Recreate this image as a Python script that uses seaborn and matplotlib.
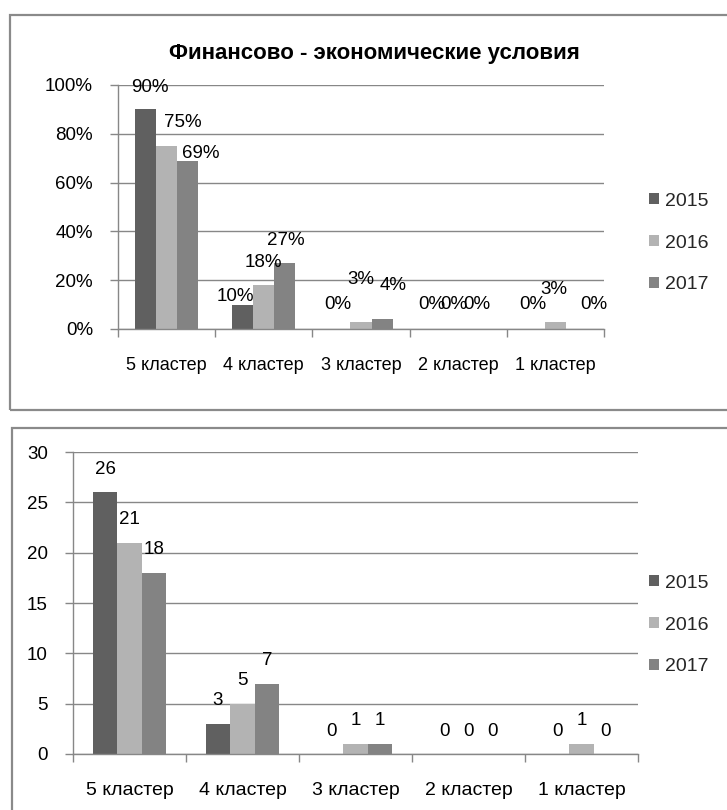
import matplotlib
matplotlib.use("Agg")
import matplotlib.pyplot as plt
import seaborn as sns
import pandas as pd
from matplotlib.patches import Rectangle, Patch
from matplotlib.ticker import FixedLocator, PercentFormatter
from matplotlib import font_manager

categories = ['5 кластер', '4 кластер', '3 кластер', '2 кластер', '1 кластер']
years = ['2015', '2016', '2017']
pct_2015 = [90, 10, 0, 0, 0]
pct_2016 = [75, 18, 3, 0, 3]
pct_2017 = [69, 27, 4, 0, 0]
cnt_2015 = [26, 3, 0, 0, 0]
cnt_2016 = [21, 5, 1, 0, 1]
cnt_2017 = [18, 7, 1, 0, 0]
title = 'Финансово - экономические условия'

colors = ['#606060', '#b3b3b3', '#838383']

# label placement (pixel offsets from bar top centre), as laid out in the original
top_label_offsets = [
    [(4, 22), (-7, 8), (-2, 24), (-5, 24), (-2, 24)],
    [(16, 23), (0, 23), (0, 42), (-4, 24), (-2, 32)],
    [(13, 7), (1, 23), (11, 34), (-2, 24), (17, 24)],
]
bottom_label_offsets = [[(0, 23)] * 5] * 3

sns.set_theme(style='white')
names = {f.name for f in font_manager.fontManager.ttflist}
fam = 'Liberation Sans Narrow' if 'Liberation Sans Narrow' in names else 'Liberation Sans'
plt.rcParams['font.family'] = [fam, 'DejaVu Sans']

FS = 13.5
W, H = 727, 810
fig = plt.figure(figsize=(W / 100, H / 100), dpi=100)


def frac_box(x0, y0, x1, y1):
    return [x0 / W, 1 - y1 / H, (x1 - x0) / W, (y1 - y0) / H]


# chart borders
for (x0, y0, x1, y1) in [(10, 15, 740, 410), (12, 428, 740, 830)]:
    fig.patches.append(Rectangle((x0 / W, 1 - y1 / H), (x1 - x0) / W, (y1 - y0) / H,
                                 transform=fig.transFigure, fill=False,
                                 edgecolor='#8a8a8a', linewidth=1.6))


def draw(ax, v15, v16, v17, ymax, ystep, fmt, pct, offsets, catfs):
    df = pd.DataFrame({
        'cat': categories * 3,
        'year': [years[0]] * 5 + [years[1]] * 5 + [years[2]] * 5,
        'val': v15 + v16 + v17,
    })
    sns.barplot(data=df, x='cat', y='val', hue='year', palette=colors, width=0.65,
                ax=ax, saturation=1, legend=False, edgecolor='none', linewidth=0)
    ax.set_xlim(-0.5, 4.5)
    ax.set_ylim(0, ymax)
    ticks = list(range(0, ymax + 1, ystep))
    ax.yaxis.set_major_locator(FixedLocator(ticks))
    if pct:
        ax.yaxis.set_major_formatter(PercentFormatter(100, decimals=0))
    ax.grid(axis='y', color='#878787', linewidth=1.0)
    ax.set_axisbelow(True)
    for s in ['top', 'right']:
        ax.spines[s].set_visible(False)
    for s in ['left', 'bottom']:
        ax.spines[s].set_color('#878787')
        ax.spines[s].set_linewidth(1.0)
    ax.set_xlabel('')
    ax.set_ylabel('')
    ax.tick_params(axis='y', which='major', left=True, length=6, width=1.0,
                   color='#878787', pad=12, labelsize=FS, labelcolor='black')
    ax.set_xticks([-0.5, 0.5, 1.5, 2.5, 3.5, 4.5])
    ax.set_xticklabels([''] * 6)
    ax.set_xticks(range(5), minor=True)
    ax.set_xticklabels(categories, minor=True)
    ax.tick_params(axis='x', which='major', bottom=True, length=6, width=1.0,
                   color='#878787')
    ax.tick_params(axis='x', which='minor', bottom=True, length=0, pad=20,
                   labelsize=catfs, labelcolor='black')
    for ci, cont in enumerate(ax.containers):
        labels = [fmt(v) for v in cont.datavalues]
        for bi, (bar, lab) in enumerate(zip(cont.patches, labels)):
            ax.annotate(lab, (bar.get_x() + bar.get_width() / 2, bar.get_height()),
                        xytext=offsets[ci][bi], textcoords='offset pixels',
                        ha='center', va='center', fontsize=FS, color='black')
    handles = [Patch(facecolor=c, edgecolor='none') for c in colors]
    return handles


legend_kw = dict(loc='center left', frameon=False, fontsize=14, handlelength=0.5,
                 handleheight=0.5, handletextpad=0.3, labelspacing=1.27,
                 borderpad=0, borderaxespad=0)

ax1 = fig.add_axes(frac_box(118, 85, 604, 329))
h = draw(ax1, pct_2015, pct_2016, pct_2017, 100, 20, lambda v: f'{v:.0f}%', True,
         top_label_offsets, 13)
fig.text(374 / W, 1 - 53 / H, title, ha='center', va='center', fontsize=16,
         fontweight='bold', color='black')
fig.legend(h, years, bbox_to_anchor=(649 / W, 1 - 243 / H), **legend_kw)

ax2 = fig.add_axes(frac_box(73, 452, 638, 754))
h = draw(ax2, cnt_2015, cnt_2016, cnt_2017, 30, 5, lambda v: f'{v:.0f}', False,
         bottom_label_offsets, 14)
fig.legend(h, years, bbox_to_anchor=(649 / W, 1 - 625 / H), **legend_kw)

fig.savefig('out.png', dpi=100)
